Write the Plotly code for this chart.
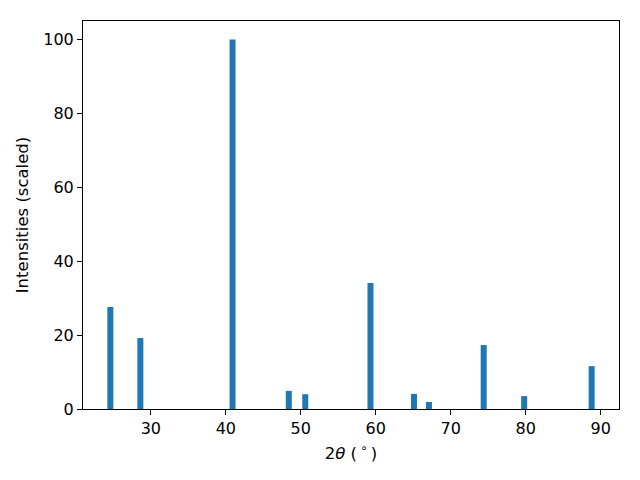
import plotly.graph_objects as go

two_theta = [24.6, 28.6, 40.9, 48.4, 50.6, 59.3, 65.1, 67.1, 74.4, 79.8, 88.8]
intensity = [27.6, 19.2, 100.0, 4.9, 4.0, 34.1, 4.1, 1.9, 17.3, 3.5, 11.6]
x_ticks = [30, 40, 50, 60, 70, 80, 90]
y_ticks = [0, 20, 40, 60, 80, 100]

fig = go.Figure(go.Bar(x=two_theta, y=intensity, width=0.8,
                       marker=dict(color="#1f77b4", line=dict(width=0))))

axis_common = dict(showline=True, linecolor="black", linewidth=1, mirror=True,
                   ticks="outside", ticklen=5, tickwidth=1, tickcolor="black",
                   showgrid=False, zeroline=False,
                   tickfont=dict(size=16, color="black"))

fig.update_layout(
    width=640, height=480,
    margin=dict(l=83, r=21, t=21, b=71),
    paper_bgcolor="white", plot_bgcolor="white",
    font=dict(family="DejaVu Sans", color="black"),
    showlegend=False,
    xaxis=dict(range=[20.95, 92.45], tickvals=x_ticks,
               title=dict(text="2<i>θ</i> (\u2009<sup>∘</sup>\u2009)", font=dict(size=16.5), standoff=10),
               **axis_common),
    yaxis=dict(range=[0, 105], tickvals=y_ticks,
               title=dict(text="Intensities (scaled)", font=dict(size=16.5), standoff=10),
               **axis_common),
)

fig.write_html("out.html", config={"displayModeBar": False},
               post_script="document.body.style.margin='0px';document.body.style.padding='0px';")
